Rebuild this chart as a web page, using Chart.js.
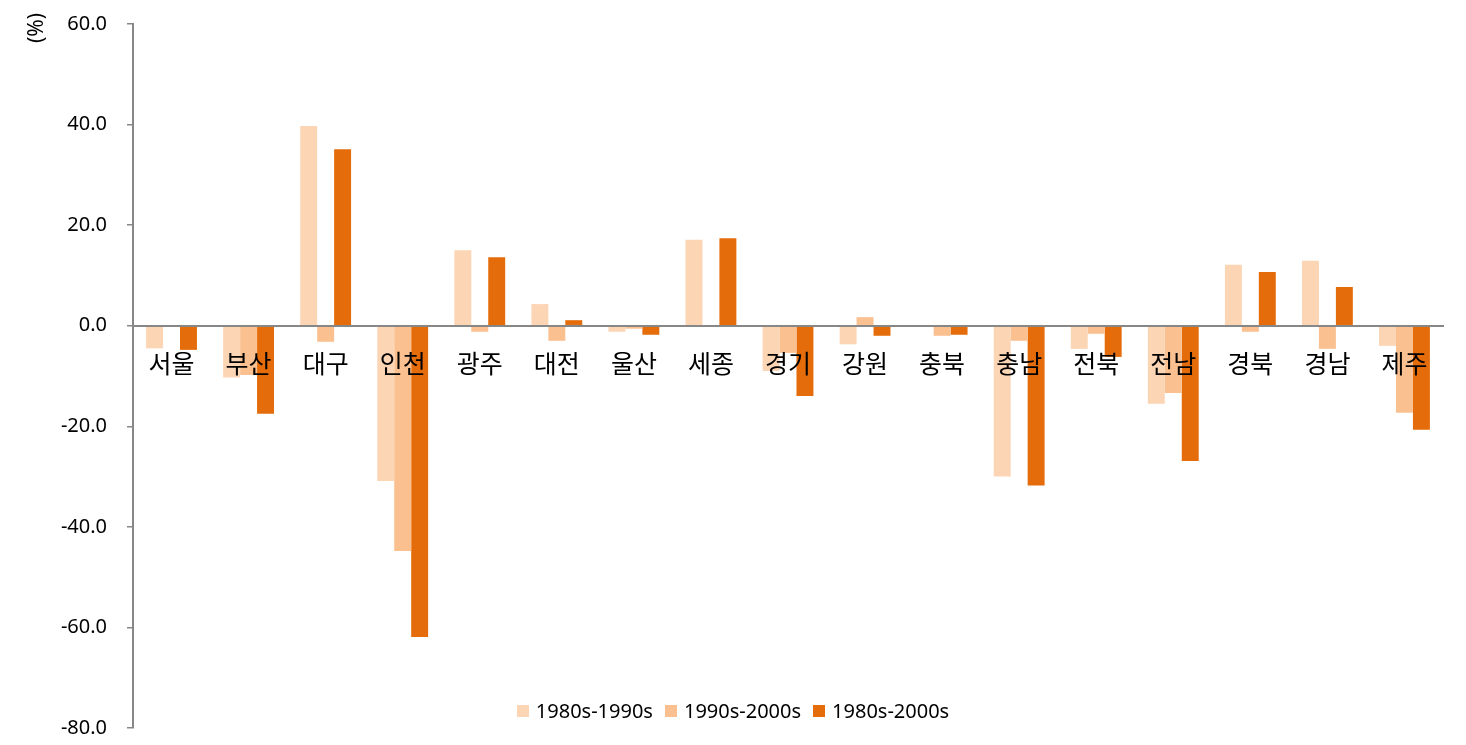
<!DOCTYPE html>
<html lang="ko">
<head>
<meta charset="utf-8">
<script src="https://cdn.jsdelivr.net/npm/chart.js@4"></script>
<style>
    html, body { margin: 0; padding: 0; background: #fff; }
    #wrap { position: relative; width: 1466px; height: 745px; }
    #legenda {
        position: absolute; left: 0; width: 1466px; top: 697px;
        display: flex; justify-content: center;
        font: 20px "Noto Sans", "Noto Sans CJK KR", sans-serif; color: #000;
    }
    #legenda span.item { display: flex; align-items: center; margin: 0 6px; }
    #legenda span.box { width: 12px; height: 12px; margin-right: 7px; display: inline-block; }
</style>
</head>
<body>
<div id="wrap">
    <canvas id="grafico" width="1466" height="745"></canvas>
    <div id="legenda"></div>
</div>
<script>
const regioes = ["서울", "부산", "대구", "인천", "광주", "대전", "울산", "세종", "경기",
    "강원", "충북", "충남", "전북", "전남", "경북", "경남", "제주"];

const rotulos = ["1980s-1990s", "1990s-2000s", "1980s-2000s"];

const serie8090 = [-4.5, -10.3, 39.7, -30.9, 15.0, 4.3, -1.2, 17.1, -9.0,
    -3.7, 0.0, -30.0, -4.6, -15.5, 12.1, 12.9, -4.0];
const serie9000 = [0.0, -9.8, -3.2, -44.8, -1.2, -3.0, -0.6, 0.0, -5.4,
    1.7, -2.0, -3.0, -1.6, -13.4, -1.2, -4.6, -17.3];
const serie8000 = [-4.8, -17.5, 35.1, -61.9, 13.6, 1.1, -1.8, 17.4, -14.0,
    -2.0, -1.8, -31.8, -6.2, -26.9, 10.7, 7.7, -20.7];

const yTicks = [-80, -60, -40, -20, 0, 20, 40, 60];

const cores = ["#fcd5b5", "#fac090", "#e46c0a"];
const cinza = "#878787";
const fonte = "'Noto Sans', 'Noto Sans CJK KR', sans-serif";

// "(%)" no topo do eixo y
const tituloEixo = {
    id: "tituloEixo",
    afterDraw(chart) {
        const c = chart.ctx;
        c.save();
        c.translate(37, 28);
        c.rotate(-Math.PI / 2);
        c.font = "21px " + fonte;
        c.fillStyle = "#000";
        c.textAlign = "center";
        c.textBaseline = "middle";
        c.fillText("(%)", 0, 0);
        c.restore();
    }
};

const ctx = document.getElementById("grafico").getContext("2d");
const chart = new Chart(ctx, {
    type: "bar",
    data: {
        labels: regioes,
        datasets: [serie8090, serie9000, serie8000].map((d, i) => ({
            label: rotulos[i],
            data: d,
            backgroundColor: cores[i],
            categoryPercentage: 0.66,
            barPercentage: 1.0
        }))
    },
    options: {
        responsive: false,
        animation: false,
        devicePixelRatio: 1,
        layout: { padding: { left: 0, right: 23, top: 24, bottom: 17 } },
        plugins: {
            legend: { display: false },
            tooltip: { enabled: false }
        },
        scales: {
            x: {
                position: { y: 0 },
                grid: { display: false, drawTicks: false },
                border: { display: true, color: cinza, width: 2, z: 1 },
                ticks: {
                    z: 1,
                    padding: 25,
                    color: "#000",
                    maxRotation: 0,
                    autoSkip: false,
                    font: { family: fonte, size: 25 }
                }
            },
            y: {
                min: -80,
                max: 60,
                afterBuildTicks: (s) => { s.ticks = yTicks.map(v => ({ value: v })); },
                afterFit: (s) => {
                    s.width = 133;
                    s.paddingTop = 0;
                    s.paddingBottom = 0;
                },
                grid: { drawOnChartArea: false, drawTicks: true, tickLength: 6, color: cinza, lineWidth: 1.5 },
                border: { display: true, color: cinza, width: 2 },
                ticks: {
                    padding: 20,
                    color: "#000",
                    font: { family: fonte, size: 20 },
                    callback: (v) => Number(v).toFixed(1)
                }
            }
        }
    },
    plugins: [tituloEixo]
});

// legenda em HTML, sobreposta ao gráfico como no original
const legenda = document.getElementById("legenda");
chart.data.datasets.forEach((ds) => {
    const item = document.createElement("span");
    item.className = "item";
    const box = document.createElement("span");
    box.className = "box";
    box.style.background = ds.backgroundColor;
    item.appendChild(box);
    item.appendChild(document.createTextNode(ds.label));
    legenda.appendChild(item);
});
</script>
</body>
</html>
